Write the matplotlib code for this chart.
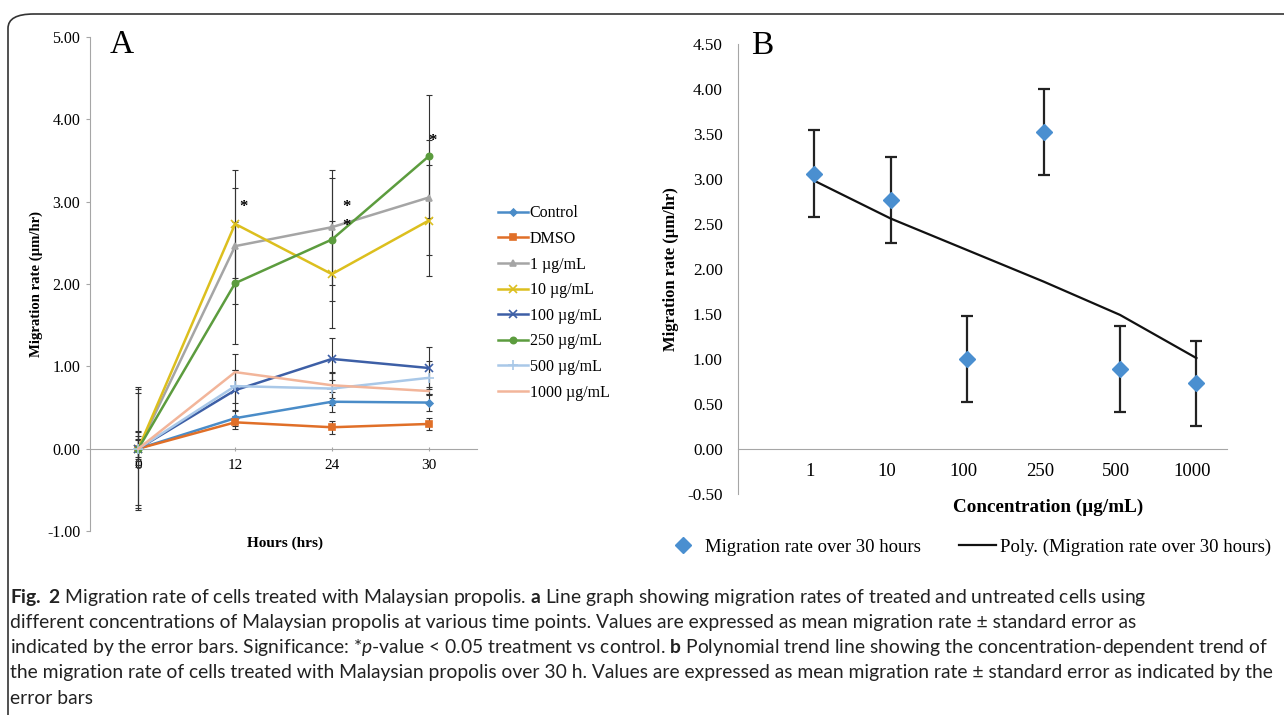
import numpy as np
import matplotlib
matplotlib.use('Agg')
import matplotlib.pyplot as plt
from matplotlib.patches import FancyBboxPatch

# Panel A: migration rate over time
hours = ['0', '12', '24', '30']
series_names = ['Control', 'DMSO', '1 µg/mL', '10 µg/mL', '100 µg/mL',
                '250 µg/mL', '500 µg/mL', '1000 µg/mL']
control = [0.0, 0.37, 0.57, 0.56]
dmso = [0.0, 0.32, 0.26, 0.30]
c1 = [0.0, 2.46, 2.69, 3.05]
c10 = [0.0, 2.73, 2.12, 2.77]
c100 = [0.0, 0.71, 1.09, 0.98]
c250 = [0.0, 2.01, 2.54, 3.55]
c500 = [0.0, 0.76, 0.73, 0.86]
c1000 = [0.0, 0.93, 0.77, 0.70]

err_control = [0.15, 0.10, 0.12, 0.10]
err_dmso = [0.10, 0.08, 0.08, 0.07]
err_c1 = [0.75, 0.70, 0.70, 0.70]
err_c10 = [0.68, 0.66, 0.65, 0.67]
err_c100 = [0.22, 0.25, 0.25, 0.25]
err_c250 = [0.20, 0.74, 0.75, 0.75]
err_c500 = [0.12, 0.20, 0.20, 0.20]
err_c1000 = [0.72, 0.22, 0.15, 0.05]

# significance stars (category position, height)
star_x = [1.09, 2.15, 2.15, 3.04]
star_y = [2.93, 2.93, 2.70, 3.74]

# Panel B: migration rate over 30 hours
conc = ['1', '10', '100', '250', '500', '1000']
rate30 = [3.06, 2.77, 1.00, 3.52, 0.89, 0.73]
err30 = [0.48, 0.48, 0.48, 0.48, 0.48, 0.47]
trend30 = [2.98, 2.56, 2.21, 1.86, 1.49, 1.01]

caption_lines = [
    r'$\mathbf{Fig.}$ $\mathbf{2}$ Migration rate of cells treated with Malaysian propolis. $\mathbf{a}$ Line graph showing migration rates of treated and untreated cells using',
    'different concentrations of Malaysian propolis at various time points. Values are expressed as mean migration rate ± standard error as',
    r'indicated by the error bars. Significance: *$\mathit{p}$-value < 0.05 treatment vs control. $\mathbf{b}$ Polynomial trend line showing the concentration-dependent trend of',
    'the migration rate of cells treated with Malaysian propolis over 30 h. Values are expressed as mean migration rate ± standard error as indicated by the',
    'error bars',
]

plt.rcParams['font.family'] = ['Liberation Serif', 'DejaVu Serif']
plt.rcParams['mathtext.fontset'] = 'custom'
plt.rcParams['mathtext.rm'] = 'Lato'
plt.rcParams['mathtext.bf'] = 'Lato:bold'
plt.rcParams['mathtext.it'] = 'Lato:italic'

fig = plt.figure(figsize=(12.84, 7.15), dpi=100)

# rounded frame around the figure
frame = FancyBboxPatch((8 / 1284, -0.2), 1.2, 1.2 - 14 / 715,
                       boxstyle='round,pad=0,rounding_size=0.02',
                       transform=fig.transFigure, fill=False,
                       edgecolor='#333333', linewidth=1.2)
fig.patches.append(frame)

axis_grey = '#a6a6a6'

# ---------------- Panel A ----------------
axA = fig.add_axes([90 / 1284, 1 - 531 / 715, 387 / 1284, 494 / 715])
axA.spines['top'].set_visible(False)
axA.spines['right'].set_visible(False)
axA.spines['bottom'].set_position(('data', 0))
axA.spines['bottom'].set_color(axis_grey)
axA.spines['left'].set_color(axis_grey)

x = np.arange(len(hours))
ys = [control, dmso, c1, c10, c100, c250, c500, c1000]
errs = [err_control, err_dmso, err_c1, err_c10, err_c100, err_c250, err_c500, err_c1000]
colors = ['#4a8cc8', '#e06f28', '#a5a5a5', '#dcbf1e', '#3d5fa6', '#5c9c3e', '#a9c8e8', '#f2b59a']
markers = ['D', 's', '^', 'x', 'x', 'o', '+', None]
msizes = [3.5, 4.5, 4.5, 6, 6, 4.5, 7, 0]

for i in range(len(ys)):
    axA.errorbar(x, ys[i], yerr=errs[i], fmt='none', ecolor='#333333',
                 elinewidth=0.8, capsize=2.3, capthick=0.8, zorder=2)
for i in range(len(ys)):
    axA.plot(x, ys[i], color=colors[i], marker=markers[i], markersize=msizes[i],
             linewidth=1.8, markeredgewidth=1.2, label=series_names[i], zorder=3)

for sx, sy in zip(star_x, star_y):
    axA.text(sx, sy, '*', fontsize=12, fontweight='bold', ha='center', va='center')

axA.set_xlim(-0.5, 3.5)
axA.set_ylim(-1, 5)
yta = np.arange(-1, 5.5, 1)
axA.set_yticks(yta)
axA.set_yticklabels(['%.2f' % v for v in yta])
axA.set_xticks(x)
axA.set_xticklabels(hours)
axA.tick_params(axis='y', length=3, direction='out', color=axis_grey, pad=4, labelsize=11.5)
axA.tick_params(axis='x', length=3, direction='inout', color=axis_grey, pad=6, labelsize=11)
axA.set_ylabel('Migration rate (µm/hr)', fontsize=10.6, fontweight='bold', labelpad=3)
axA.text(0.505, -0.024, 'Hours (hrs)', transform=axA.transAxes, ha='center', va='center',
         fontsize=11, fontweight='bold')
axA.text(0.05, 1.015, 'A', transform=axA.transAxes, fontsize=24, va='top')
axA.legend(loc='center left', bbox_to_anchor=(1.054, 0.4615), frameon=False,
           fontsize=11.5, handlelength=1.9, handletextpad=0.1, labelspacing=0.6,
           borderpad=0, borderaxespad=0)

# ---------------- Panel B ----------------
axB = fig.add_axes([738 / 1284, 1 - 494 / 715, 489 / 1284, 450 / 715])
axB.spines['top'].set_visible(False)
axB.spines['right'].set_visible(False)
axB.spines['bottom'].set_position(('data', 0))
axB.spines['bottom'].set_color(axis_grey)
axB.spines['left'].set_color(axis_grey)

xb = np.arange(len(conc))
axB.errorbar(xb, rate30, yerr=err30, fmt='none', ecolor='#222222', elinewidth=1.6,
             capsize=4, capthick=1.6, zorder=2)
axB.plot(xb, trend30, color='#111111', linewidth=1.6, zorder=3,
         label='Poly. (Migration rate over 30 hours)')
axB.plot(xb, rate30, linestyle='none', marker='D', markersize=8.5, color='#4a8fd0',
         zorder=4, label='Migration rate over 30 hours')
axB.set_xlim(-1, 5.4)
axB.set_ylim(-0.5, 4.5)
ytb = np.arange(-0.5, 4.51, 0.5)
axB.set_yticks(ytb)
axB.set_yticklabels(['%.2f' % v for v in ytb])
axB.set_xticks(xb - 0.05)
axB.set_xticklabels(conc)
axB.tick_params(axis='y', length=0, pad=11, labelsize=12.3)
axB.tick_params(axis='x', length=0, pad=10, labelsize=13.5)
axB.set_ylabel('Migration rate (µm/hr)', fontsize=12, fontweight='bold', labelpad=6)
axB.text(0.634, -0.029, 'Concentration (µg/mL)', transform=axB.transAxes, ha='center',
         va='center', fontsize=13.8, fontweight='bold')
axB.text(0.027, 1.03, 'B', transform=axB.transAxes, fontsize=24, va='top')
h, l = axB.get_legend_handles_labels()
fig.legend(h[::-1], l[::-1], loc='center left', bbox_to_anchor=(664 / 1284, 1 - 547 / 715),
           bbox_transform=fig.transFigure, ncol=2, frameon=False, fontsize=13.5,
           handlelength=2.0, handletextpad=0.2, columnspacing=2.0,
           borderpad=0, borderaxespad=0)

# ---------------- Caption ----------------
for i, line in enumerate(caption_lines):
    fig.text(10 / 1284, 1 - (597 + 25.3 * i) / 715, line, fontsize=13.85,
             family=['Lato', 'DejaVu Sans'], va='center', ha='left',
             color='#222222')

fig.savefig('out.png', dpi=100)
